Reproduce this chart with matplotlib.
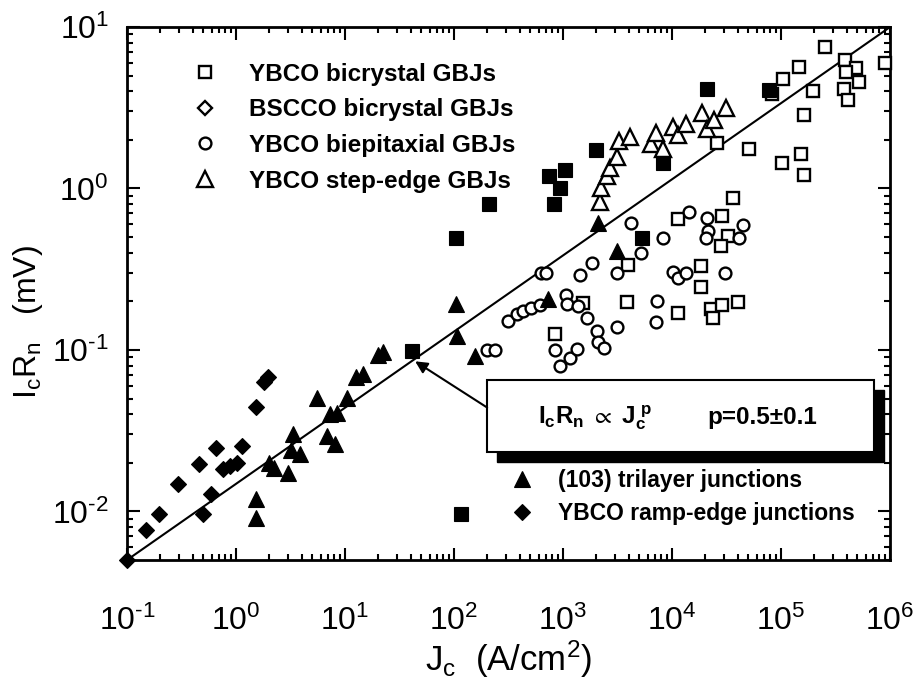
import matplotlib
matplotlib.use('Agg')
import matplotlib.pyplot as plt
from matplotlib.lines import Line2D
from matplotlib.patches import Rectangle
from matplotlib.ticker import LogLocator, NullFormatter, FuncFormatter, FixedLocator
import math

plt.rcParams['font.family'] = ['Liberation Sans', 'DejaVu Sans']
plt.rcParams['axes.unicode_minus'] = False
plt.rcParams['mathtext.fontset'] = 'custom'
plt.rcParams['mathtext.rm'] = 'Liberation Sans'
plt.rcParams['mathtext.it'] = 'Liberation Sans'
plt.rcParams['mathtext.bf'] = 'Liberation Sans:bold'
plt.rcParams['mathtext.fallback'] = 'stixsans'

# YBCO bicrystal GBJs (open squares)
bicr_jc = [253500, 386500, 487500, 394500, 520000, 378700, 412000, 899500, 146200, 104200,
           82600, 196800, 162600, 50800, 25880, 152400, 102100, 162600, 36300, 11350,
           28770, 32660, 28180, 3945, 18450, 18450, 3864, 11350, 22800, 23770,
           28770, 40360, 845, 1524]
bicr_icrn = [7.51, 6.24, 5.56, 5.25, 4.55, 4.12, 3.52, 5.97, 5.65, 4.75,
             3.84, 4.00, 2.84, 1.75, 1.90, 1.63, 1.43, 1.22, 0.867, 0.651,
             0.680, 0.511, 0.443, 0.337, 0.332, 0.246, 0.199, 0.170, 0.180, 0.158,
             0.190, 0.199, 0.126, 0.196]

# YBCO biepitaxial GBJs (open circles)
biep_jc = [628, 698, 1432, 1845, 3127, 313, 378, 430, 508, 615,
           1066, 1089, 1374, 1660, 2051, 2094, 2377, 3127, 845, 938,
           1159, 1343, 201, 238, 7280, 7130, 10210, 11350, 13430, 30620,
           4205, 8260, 5196, 14320, 20940, 21380, 20510, 44770, 41180]
biep_icrn = [0.301, 0.301, 0.292, 0.347, 0.301, 0.151, 0.167, 0.175, 0.182, 0.190,
             0.220, 0.193, 0.188, 0.158, 0.131, 0.112, 0.103, 0.139, 0.100, 0.0796,
             0.0892, 0.1015, 0.100, 0.100, 0.201, 0.149, 0.305, 0.280, 0.301, 0.301,
             0.607, 0.496, 0.400, 0.710, 0.660, 0.548, 0.496, 0.598, 0.496]

# YBCO step-edge GBJs (open triangles)
step_jc = [2183, 2233, 2535, 2698, 3126, 3263, 4118, 6413, 7129, 8260,
           10200, 11350, 13430, 18830, 20940, 24260, 31270]
step_icrn = [0.819, 1.01, 1.19, 1.33, 1.56, 1.96, 2.07, 1.88, 2.20, 1.75,
             2.39, 2.13, 2.50, 2.92, 2.32, 2.64, 3.14]

# (103) trilayer junctions (filled triangles)
tri_jc = [1.53, 1.53, 2.01, 2.23, 3.0, 3.33, 3.2, 3.87, 5.53, 6.84,
          8.09, 7.28, 8.45, 10.4, 12.6, 14.6, 20.1, 22.3, 104, 107,
          156, 728, 2094, 3127]
tri_icrn = [0.0120, 0.00906, 0.0199, 0.0185, 0.0172, 0.0301, 0.0239, 0.0226, 0.0503, 0.0292,
            0.0261, 0.040, 0.0406, 0.0503, 0.0679, 0.071, 0.0931, 0.0972, 0.193, 0.122,
            0.0918, 0.207, 0.615, 0.412]

# YBCO ramp-edge junctions (filled diamonds)
ramp_jc = [0.1, 0.149, 0.197, 0.294, 0.458, 0.50, 0.59, 0.656, 0.76, 0.88,
           1.02, 1.135, 1.52, 1.81, 1.97]
ramp_icrn = [0.005, 0.0077, 0.0097, 0.0147, 0.0196, 0.0097, 0.0128, 0.0246, 0.0182, 0.0190,
             0.0199, 0.0253, 0.0443, 0.0633, 0.068]

# filled squares (no legend entry in the original)
fsq_jc = [41.2, 116, 104, 209, 744, 1043, 938, 826, 2009, 8260, 5309, 20940, 77600]
fsq_icrn = [0.0986, 0.0097, 0.496, 0.807, 1.20, 1.31, 1.0, 0.796, 1.72, 1.43, 0.496, 4.12, 4.06]

# fit line IcRn ~ Jc^p
fit_jc = [1e-1, 1e6]
fit_icrn = [5e-3, 1e1]
arrow_jc, arrow_icrn = 44, 0.085

x_decades = [1e-1, 1e0, 1e1, 1e2, 1e3, 1e4, 1e5, 1e6]
y_decades = [1e-2, 1e-1, 1e0, 1e1]


def pow10(v, pos):
    e = int(round(math.log10(v)))
    if e < 0:
        return '$\\mathdefault{10^{\u2010%d}}$' % (-e)
    return '$\\mathdefault{10^{%d}}$' % e


fig = plt.figure(figsize=(9.19, 6.84), dpi=100)
ax = fig.add_axes([0.1382, 0.1813, 0.8303, 0.7792])
ax.set_xscale('log')
ax.set_yscale('log')
ax.set_xlim(1e-1, 1e6)
ax.set_ylim(5e-3, 1e1)

ax.plot(fit_jc, fit_icrn, color='k', lw=1.5, zorder=2)

opn = dict(ls='none', mfc='white', mec='k', mew=1.7, zorder=3)
fil = dict(ls='none', mfc='k', mec='k', mew=0.8, zorder=3)
ax.plot(bicr_jc, bicr_icrn, marker='s', ms=8.5, clip_on=False, **opn)
ax.plot(biep_jc, biep_icrn, marker='o', ms=8.5, clip_on=False, **opn)
ax.plot(step_jc, step_icrn, marker='^', ms=11, clip_on=False, **opn)
ax.plot(tri_jc, tri_icrn, marker='^', ms=12, clip_on=False, **fil)
ax.plot(ramp_jc, ramp_icrn, marker='D', ms=8.5, clip_on=False, **fil)
ax.plot(fsq_jc, fsq_icrn, marker='s', ms=10, clip_on=False, **fil)

# axes styling
for s in ax.spines.values():
    s.set_linewidth(2.0)
ax.xaxis.set_major_locator(FixedLocator(x_decades))
ax.yaxis.set_major_locator(FixedLocator(y_decades))
ax.xaxis.set_minor_locator(LogLocator(base=10, subs=range(2, 10), numticks=20))
ax.yaxis.set_minor_locator(LogLocator(base=10, subs=range(2, 10), numticks=20))
ax.xaxis.set_minor_formatter(NullFormatter())
ax.yaxis.set_minor_formatter(NullFormatter())
ax.xaxis.set_major_formatter(FuncFormatter(pow10))
ax.yaxis.set_major_formatter(FuncFormatter(pow10))
ax.tick_params(which='both', direction='in', top=True, right=True, width=1.5)
ax.tick_params(which='major', length=9, labelsize=23)
ax.tick_params(which='minor', length=4.5)
ax.tick_params(axis='x', which='major', pad=33)
ax.tick_params(axis='y', which='major', pad=13)

ax.set_xlabel(r'$\mathdefault{J_c}$  (A/cm$\mathdefault{^2}$)', fontsize=25)
ax.xaxis.set_label_coords(0.5, -0.147)
ax.set_ylabel(r'$\mathdefault{I_cR_n}$   (mV)', fontsize=23)
ax.yaxis.set_label_coords(-0.1075, 0.4475)

# legends
h_top = [
    Line2D([], [], marker='s', ms=8.5, **opn),
    Line2D([], [], marker='D', ms=7.5, **opn),
    Line2D([], [], marker='o', ms=8.5, **opn),
    Line2D([], [], marker='^', ms=11, **opn),
]
l_top = ['YBCO bicrystal GBJs', 'BSCCO bicrystal GBJs',
         'YBCO biepitaxial GBJs', 'YBCO step-edge GBJs']
leg1 = ax.legend(h_top, l_top, loc='upper left', bbox_to_anchor=(0.0865, 0.933),
                 frameon=False, borderpad=0, borderaxespad=0, handlelength=1.0,
                 handletextpad=1.29, labelspacing=0.52,
                 prop={'family': 'Liberation Sans', 'weight': 'bold', 'size': 17.5})
ax.add_artist(leg1)

h_bot = [
    Line2D([], [], marker='^', ms=12, **fil),
    Line2D([], [], marker='D', ms=8.5, **fil),
]
l_bot = ['(103) trilayer junctions', 'YBCO ramp-edge junctions']
ax.legend(h_bot, l_bot, loc='upper left', bbox_to_anchor=(0.5026, 0.171),
          frameon=False, borderpad=0, borderaxespad=0, handlelength=1.0,
          handletextpad=1.07, labelspacing=0.45,
          prop={'family': 'Liberation Sans', 'weight': 'bold', 'size': 16.5})

# fit box with drop shadow
bx, by, bw, bh = 0.472, 0.203, 0.507, 0.135
ax.add_patch(Rectangle((bx + 0.0125, by - 0.0188), bw, bh, transform=ax.transAxes,
                       facecolor='k', edgecolor='k', zorder=5, clip_on=False))
ax.add_patch(Rectangle((bx, by), bw, bh, transform=ax.transAxes,
                       facecolor='white', edgecolor='k', lw=1.5, zorder=6, clip_on=False))
ax.text(0.613, 0.268, r'$\mathbf{I_cR_n}$ $\propto$ $\mathbf{J_c^{\ p}}$', transform=ax.transAxes,
        ha='center', va='center', fontsize=17.5, fontweight='bold', zorder=7)
ax.text(0.832, 0.268, 'p=0.5\u00b10.1', transform=ax.transAxes,
        ha='center', va='center', fontsize=17.5, fontweight='bold', zorder=7)

ax.annotate('', xy=(arrow_jc, arrow_icrn), xycoords='data',
            xytext=(bx, 0.286), textcoords='axes fraction',
            arrowprops=dict(arrowstyle='-|>', color='k', lw=1.5, mutation_scale=18,
                            shrinkA=0, shrinkB=0), zorder=6)

fig.savefig('out.png', dpi=100)
